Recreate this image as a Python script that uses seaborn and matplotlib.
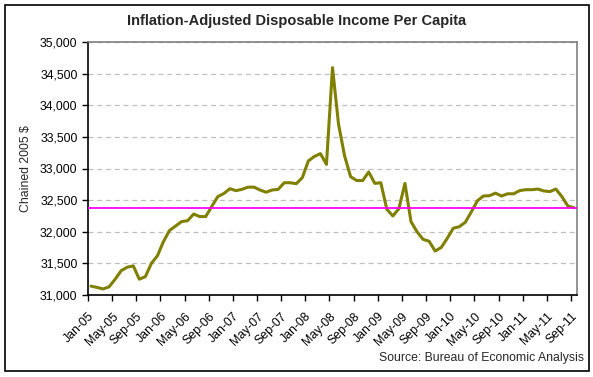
import numpy as np
import pandas as pd
import seaborn as sns
import matplotlib.pyplot as plt
from matplotlib.patches import Rectangle
from matplotlib.ticker import FuncFormatter

# monthly, Jan-05 .. Sep-11
months = pd.date_range("2005-01-01", "2011-09-01", freq="MS")
income = [
    31140, 31120, 31095, 31130, 31250, 31385, 31440, 31460, 31250, 31290, 31500, 31620,
    31845, 32020, 32090, 32160, 32175, 32280, 32240, 32240, 32400, 32555, 32605, 32680,
    32650, 32670, 32705, 32705, 32660, 32625, 32660, 32670, 32775, 32775, 32760, 32855,
    33120, 33190, 33235, 33065, 34595, 33700, 33200, 32870, 32810, 32810, 32945, 32765,
    32775, 32355, 32250, 32365, 32765, 32160, 32000, 31880, 31850, 31695, 31750, 31895,
    32055, 32080, 32150, 32315, 32490, 32565, 32570, 32610, 32565, 32600, 32600, 32650,
    32665, 32665, 32675, 32645, 32635, 32675, 32555, 32405, 32380,
]
avg_line = 32370
tick_labels = [d.strftime("%b-%y") for d in months[::4]]

df = pd.DataFrame({"idx": np.arange(len(months)), "income": income})

sns.set_style("white")
plt.rcParams["font.family"] = ["Liberation Sans", "DejaVu Sans"]

fig = plt.figure(figsize=(5.93, 3.77), dpi=100)
ax = fig.add_axes([88 / 593, 82 / 377, 489 / 593, 253 / 377])

sns.lineplot(data=df, x="idx", y="income", ax=ax, color="#808000", linewidth=2.2)
ax.axhline(avg_line, color="#FF00FF", linewidth=1.3, zorder=3)

ax.set_ylim(31000, 35000)
ax.set_yticks(np.arange(31000, 35001, 500))
ax.yaxis.set_major_formatter(FuncFormatter(lambda v, _: f"{v:,.0f}"))
ax.yaxis.grid(True, color="#C0C0C0", linestyle=(0, (4, 3)), linewidth=0.9)
ax.set_axisbelow(True)

ax.set_xlim(-0.5, len(months) - 0.5)
ax.set_xticks(np.arange(0, len(months), 4) - 0.5)
ax.set_xticklabels(tick_labels, rotation=45, ha="right", va="top",
                   rotation_mode="anchor", fontsize=8.8)
ax.tick_params(axis="both", direction="out", length=4, width=1, colors="black",
               labelsize=8.8, bottom=True, left=True)
ax.tick_params(axis="x", pad=7)

for side in ["left", "bottom"]:
    ax.spines[side].set_color("black")
    ax.spines[side].set_linewidth(1.2)
for side in ["top", "right"]:
    ax.spines[side].set_color("#808080")
    ax.spines[side].set_linewidth(1.2)

ax.set_xlabel("")
ax.set_ylabel("Chained 2005 $", fontsize=8.8, labelpad=6)

fig.text(0.5, 0.945, "Inflation-Adjusted Disposable Income Per Capita",
         ha="center", va="center", fontsize=10.5, fontweight="bold")
fig.text(584 / 593, 1 - 358 / 377, "Source: Bureau of Economic Analysis",
         ha="right", va="center", fontsize=8.8)

fig.patches.append(Rectangle((5 / 593, 6 / 377), 584 / 593, 366 / 377,
                             transform=fig.transFigure, fill=False,
                             edgecolor="black", linewidth=1.2))

fig.savefig("out.png", dpi=100)
